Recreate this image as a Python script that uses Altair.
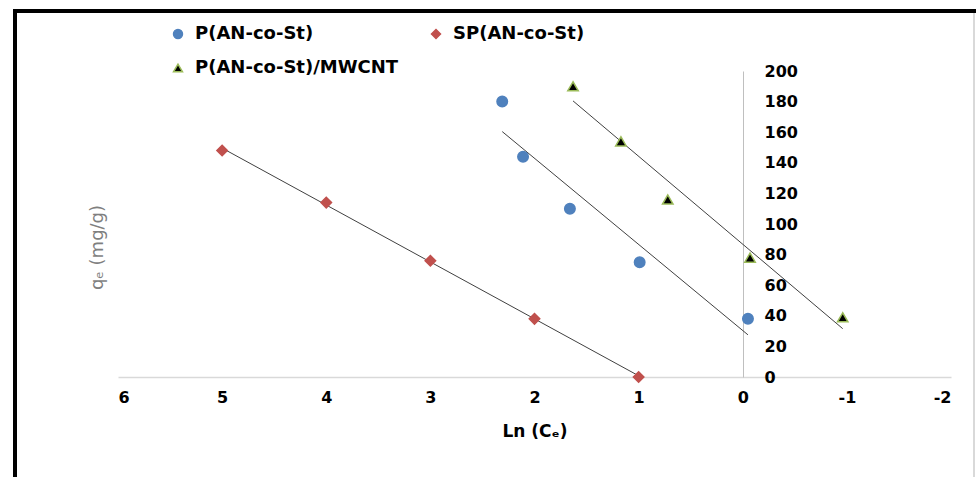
import altair as alt
import pandas as pd

# Series names
series_names = ["P(AN-co-St)", "SP(AN-co-St)", "P(AN-co-St)/MWCNT"]
# Legend entry order (filled column by column in a two-column grid)
legend_order = ["P(AN-co-St)", "P(AN-co-St)/MWCNT", "SP(AN-co-St)"]

# Ln(Ce) and qe (mg/g) for each adsorbent
p_ln_ce = [2.31, 2.11, 1.66, 0.99, -0.05]
p_qe = [180, 144, 110, 75, 38]

sp_ln_ce = [5.0, 4.0, 3.0, 2.0, 1.0]
sp_qe = [148, 114, 76, 38, 0]

cnt_ln_ce = [1.63, 1.17, 0.72, -0.07, -0.96]
cnt_qe = [190, 154, 116, 78, 39]

# Marker styling per series
fill_colors = ["#4F81BD", "#C0504D", "#000000"]
stroke_colors = ["#4F81BD", "#C0504D", "#9BBB59"]
shapes = ["circle", "diamond", "triangle-up"]

x_ticks = [6, 5, 4, 3, 2, 1, 0, -1, -2]
y_ticks = [0, 20, 40, 60, 80, 100, 120, 140, 160, 180, 200]

rows = []
for name, xs, ys in zip(series_names,
                        [p_ln_ce, sp_ln_ce, cnt_ln_ce],
                        [p_qe, sp_qe, cnt_qe]):
    for xv, yv in zip(xs, ys):
        rows.append({"series": name, "ln_ce": xv, "qe": yv})
df = pd.DataFrame(rows)

FONT = "DejaVu Sans"
W, H = 833, 306

legend = alt.Legend(
    title=None,
    orient="none",
    legendX=51,
    legendY=-46,
    columns=2,
    columnPadding=28,
    rowPadding=16,
    values=legend_order,
    labelFont=FONT,
    labelFontWeight="bold",
    labelFontSize=18,
    labelColor="#000000",
    labelLimit=400,
    labelOffset=8,
    symbolSize=80,
    symbolStrokeWidth=1.5,
    padding=0,
)

x_enc = alt.X(
    "ln_ce:Q",
    scale=alt.Scale(domain=[-2, 6], reverse=True, nice=False, zero=False),
    axis=alt.Axis(
        values=x_ticks,
        labelExpr="'' + datum.value",
        grid=False,
        ticks=False,
        domainColor="#D9D9D9",
        domainWidth=1.5,
        labelFont=FONT,
        labelFontWeight="bold",
        labelFontSize=16,
        labelColor="#000000",
        labelPadding=12,
        labelOverlap=False,
        title="Ln (Cₑ)",
        titleFont=FONT,
        titleFontWeight="bold",
        titleFontSize=17,
        titleColor="#000000",
        titlePadding=18,
    ),
)

y_enc = alt.Y(
    "qe:Q",
    scale=alt.Scale(domain=[0, 200], nice=False),
    axis=alt.Axis(
        orient="right",
        offset=-208,
        values=y_ticks,
        labelExpr="'' + datum.value",
        grid=False,
        ticks=False,
        domainColor="#BFBFBF",
        domainWidth=1,
        labelFont=FONT,
        labelFontWeight="bold",
        labelFontSize=16,
        labelColor="#000000",
        labelPadding=21,
        labelAlign="left",
        labelBaseline="middle",
        labelOverlap=False,
        labelFlush=False,
        title="qₑ (mg/g)",
        titleFont=FONT,
        titleFontWeight="normal",
        titleFontSize=18,
        titleColor="#7F7F7F",
        titleAngle=270,
        titleX=-646,
        titleY=176,
        titleAlign="center",
        titleBaseline="middle",
    ),
)

points = alt.Chart(df).mark_point(
    filled=True, opacity=1, size=110, strokeWidth=1.5
).encode(
    x=x_enc,
    y=y_enc,
    shape=alt.Shape("series:N", scale=alt.Scale(domain=series_names, range=shapes), legend=legend),
    fill=alt.Fill("series:N", scale=alt.Scale(domain=series_names, range=fill_colors), legend=legend),
    stroke=alt.Stroke("series:N", scale=alt.Scale(domain=series_names, range=stroke_colors), legend=legend),
)

# Linear trend line through each series
trends = alt.Chart(df).transform_regression(
    "ln_ce", "qe", groupby=["series"]
).mark_line(color="#404040", strokeWidth=1).encode(
    x=x_enc,
    y=y_enc,
    detail="series:N",
)

# Outer frame around the figure
frame = alt.Chart(df).mark_rect(
    fillOpacity=0, stroke="#000000", strokeWidth=3
).encode(
    x=alt.value(-103), x2=alt.value(880),
    y=alt.value(-60), y2=alt.value(420),
)
right_edge = alt.Chart(df).mark_rule(color="#D9D9D9", strokeWidth=1.5).encode(
    x=alt.value(856), y=alt.value(-58), y2=alt.value(420)
)

chart = alt.layer(frame, right_edge, trends, points).properties(
    width=W,
    height=H,
    autosize=alt.AutoSizeParams(type="none"),
    padding={"left": 118, "top": 71, "right": 25, "bottom": 100},
    background="#FFFFFF",
).configure_view(stroke=None)

chart.save("out.html", embed_options={"renderer": "svg", "actions": False})
